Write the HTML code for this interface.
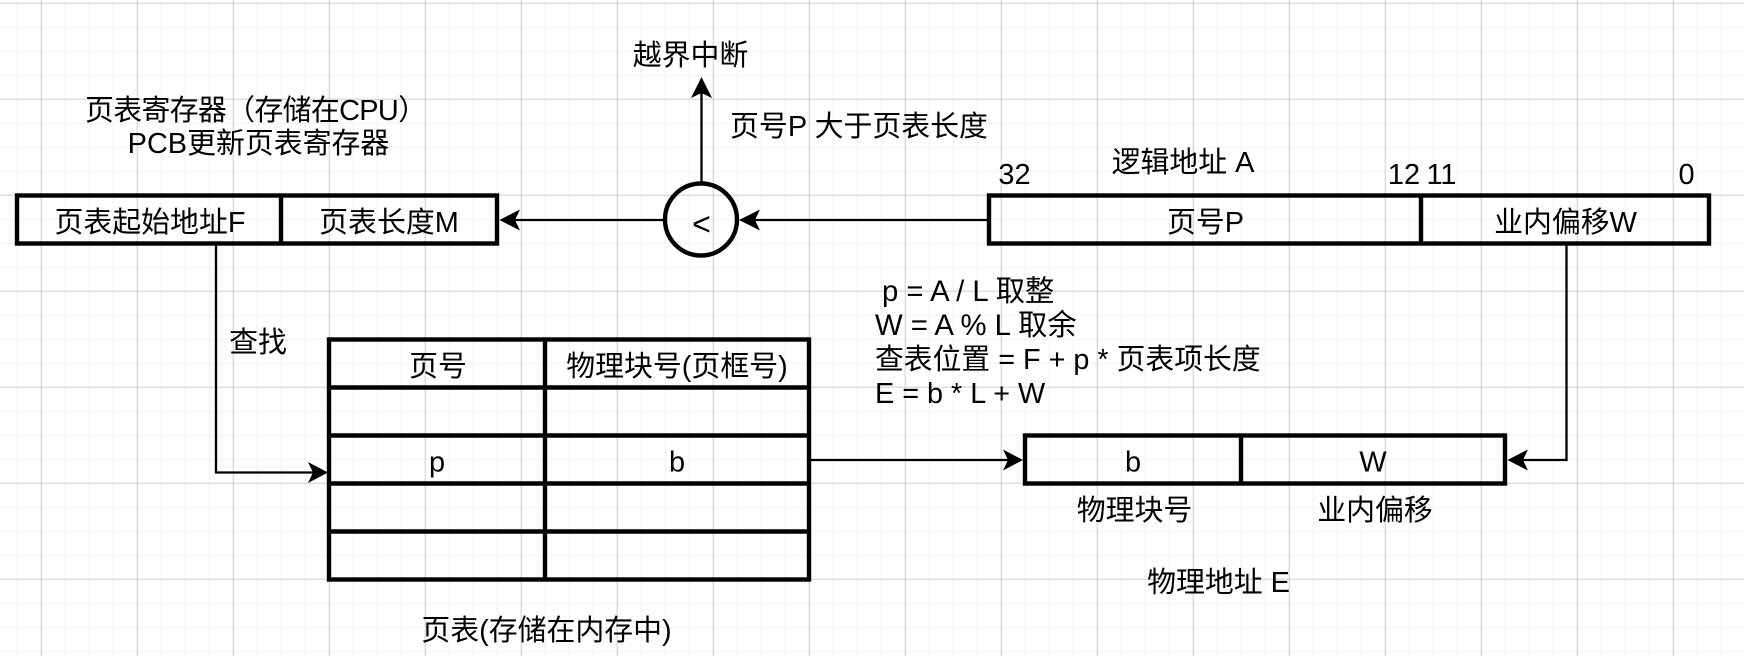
<!DOCTYPE html>
<html>
<head>
<meta charset="utf-8">
<style>
html,body{margin:0;padding:0;background:#fff;}
svg{display:block;}
text{font-family:"Liberation Sans","Noto Sans CJK SC",sans-serif;font-size:28.9px;fill:#000;}
.m{text-anchor:middle;}
.f{font-size:28.8px;}
.g{font-size:29.3px;}
.b{fill:none;stroke:#000;stroke-width:4.4;}
.l{fill:none;stroke:#000;stroke-width:2.3;}
</style>
</head>
<body>
<svg xmlns="http://www.w3.org/2000/svg" width="1744" height="656" viewBox="0 0 1744 656">
<defs>
<pattern id="minor" width="24" height="24" patternUnits="userSpaceOnUse" patternTransform="translate(16.7 2.7)">
<path d="M0 0H24M0 0V24" stroke="#f3f3f3" stroke-width="2.4" fill="none"/>
</pattern>
<pattern id="major" width="96" height="96" patternUnits="userSpaceOnUse" patternTransform="translate(40.7 2.7)">
<path d="M0 0H96M0 0V96" stroke="#d0d0d0" stroke-width="2" fill="none"/>
</pattern>
</defs>
<rect width="1744" height="656" fill="#fff"/>
<rect width="1744" height="656" fill="url(#minor)"/>
<rect width="1744" height="656" fill="url(#major)"/>

<!-- connectors -->
<path class="l" d="M701.5 182V92"/>
<polygon points="701.5,77 691,98 701.5,93 712,98"/>
<path class="l" d="M989 220H755"/>
<polygon points="739,220 760,209.5 755,220 760,230.5"/>
<path class="l" d="M664 220H515"/>
<polygon points="499.5,220 520,209.5 515,220 520,230.5"/>
<path class="l" d="M216 244V472.5H313"/>
<polygon points="328,472.5 308,462 313,472.5 308,483"/>
<path class="l" d="M810 460H1008"/>
<polygon points="1023,460 1003,449.5 1008,460 1003,470.5"/>
<path class="l" d="M1566.5 245V460H1523"/>
<polygon points="1507.5,460 1528,449.5 1523,460 1528,470.5"/>

<!-- register box -->
<rect x="17" y="195.5" width="480" height="48" fill="#fff" class="b"/>
<path class="b" d="M281 195.5V243.5"/>
<!-- logical address -->
<rect x="989" y="195.5" width="720" height="48" fill="#fff" class="b"/>
<path class="b" d="M1421 195.5V243.5"/>
<!-- circle -->
<circle cx="701" cy="219.5" r="36" fill="#fff" class="b"/>
<!-- page table -->
<rect x="329" y="339.5" width="480" height="240" fill="#fff" class="b"/>
<path class="b" d="M545 339.5V579.5M329 387.5H809M329 435.5H809M329 483.5H809M329 531.5H809"/>
<!-- physical address -->
<rect x="1025" y="435.5" width="480" height="48" fill="#fff" class="b"/>
<path class="b" d="M1241 435.5V483.5"/>

<!-- labels -->
<text x="85" y="120" textLength="342" lengthAdjust="spacing">页表寄存器（存储在CPU）</text>
<text class="m" x="258.5" y="153">PCB更新页表寄存器</text>
<text class="m" x="150" y="232">页表起始地址F</text>
<text class="m" x="389" y="232">页表长度M</text>
<text class="m" x="690.5" y="65">越界中断</text>
<text class="m" x="859" y="136">页号P 大于页表长度</text>
<text class="m" x="1183" y="172">逻辑地址 A</text>
<text class="m" x="1014.5" y="184">32</text>
<text class="m" x="1404" y="184">12</text>
<text class="m" x="1441.5" y="184">11</text>
<text class="m" x="1686.5" y="184">0</text>
<text class="m" x="701.5" y="235" style="font-size:32px">&lt;</text>
<text class="m" x="1205.5" y="232">页号P</text>
<text class="m" x="1565.5" y="232">业内偏移W</text>
<text class="g" x="882" y="301">p = A / L 取整</text>
<text class="g" x="875" y="335">W = A % L 取余</text>
<text class="f" x="875" y="369">查表位置 = F + p * 页表项长度</text>
<text class="f" x="875" y="403">E = b * L + W</text>
<text class="m" x="258" y="352">查找</text>
<text class="m" x="438" y="376">页号</text>
<text class="m" x="677" y="376">物理块号(页框号)</text>
<text class="m" x="437" y="471.5">p</text>
<text class="m" x="677" y="471.5">b</text>
<text class="m" x="546.5" y="640">页表(存储在内存中)</text>
<text class="m" x="1133" y="471.5">b</text>
<text class="m" x="1373" y="471.5">W</text>
<text class="m" x="1134.5" y="520">物理块号</text>
<text class="m" x="1375" y="520">业内偏移</text>
<text class="m" x="1218.5" y="592">物理地址 E</text>
</svg>
</body>
</html>
